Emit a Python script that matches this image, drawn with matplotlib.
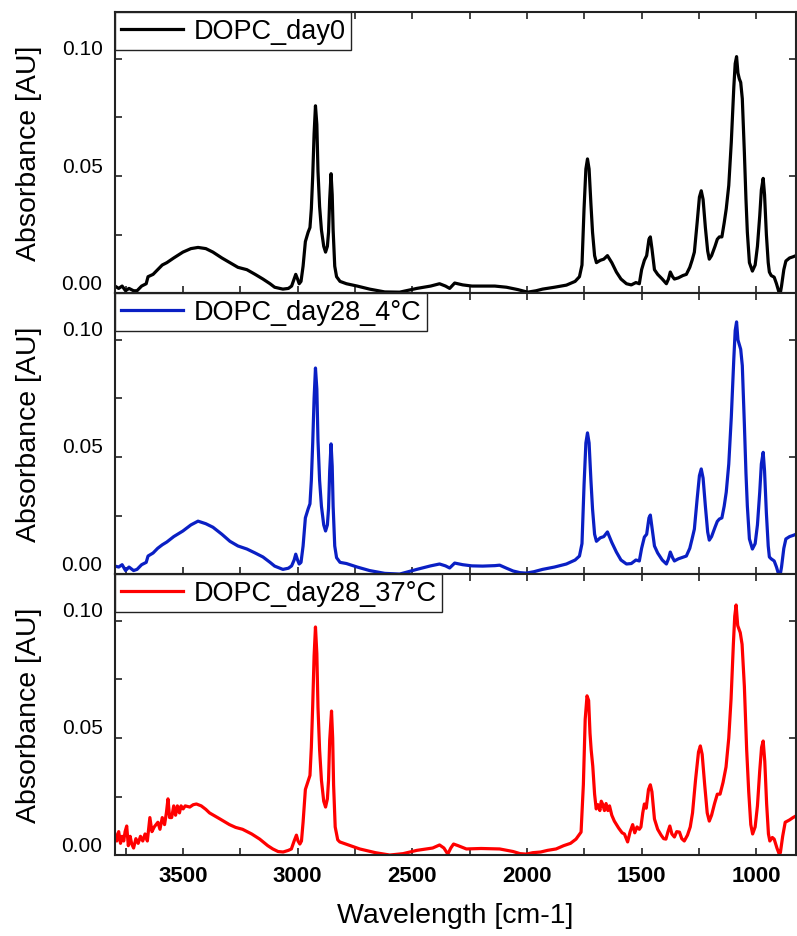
import matplotlib
matplotlib.use("Agg")
import matplotlib.pyplot as plt
import matplotlib.transforms as mtransforms
from matplotlib.ticker import MultipleLocator
import numpy as np

plt.rcParams["font.family"] = ["Liberation Sans", "DejaVu Sans"]

# DOPC, day 0
wn_day0 = [3796, 3780, 3765, 3750, 3735, 3715, 3700, 3680, 3660, 3652, 3630, 3610, 3590, 3570, 3540,
           3500, 3465, 3434, 3400, 3369, 3330, 3295, 3260, 3221, 3185, 3151, 3120, 3100, 3064, 3040,
           3026, 3015, 3008, 3000, 2993, 2985, 2976, 2966, 2954, 2946, 2940, 2934, 2928, 2922, 2916,
           2911, 2904, 2896, 2886, 2878, 2870, 2865, 2860, 2854, 2849, 2845, 2838, 2830, 2815, 2787,
           2740, 2686, 2620, 2555, 2480, 2420, 2381, 2355, 2337, 2315, 2280, 2240, 2193, 2140, 2089,
           2040, 1997, 1960, 1932, 1880, 1828, 1790, 1771, 1760, 1751, 1743, 1736, 1729, 1721, 1714,
           1705, 1697, 1680, 1665, 1649, 1630, 1610, 1590, 1566, 1545, 1525, 1510, 1500, 1488, 1478,
           1468, 1462, 1455, 1444, 1430, 1410, 1392, 1383, 1375, 1365, 1357, 1340, 1320, 1305, 1290,
           1280, 1270, 1258, 1248, 1240, 1232, 1222, 1212, 1205, 1195, 1180, 1170, 1161, 1150, 1140,
           1131, 1120, 1109, 1098, 1092, 1086, 1080, 1074, 1068, 1061, 1052, 1045, 1039, 1030, 1017,
           1005, 995, 985, 978, 970, 964, 956, 948, 943, 935, 922, 912, 903, 897, 890,
           880, 871, 855, 840, 827]
abs_day0 = [0.003, 0.002, 0.003, 0.001, 0.002, 0.001, 0.001, 0.003, 0.004, 0.007, 0.008, 0.010, 0.012, 0.013, 0.015,
            0.0175, 0.019, 0.0195, 0.019, 0.0175, 0.015, 0.013, 0.011, 0.010, 0.008, 0.006, 0.004, 0.0025, 0.0017, 0.002,
            0.003, 0.006, 0.008, 0.006, 0.004, 0.005, 0.0115, 0.022, 0.026, 0.028, 0.036, 0.050, 0.068, 0.080, 0.072,
            0.052, 0.037, 0.027, 0.020, 0.0175, 0.020, 0.026, 0.040, 0.051, 0.042, 0.027, 0.0115, 0.007, 0.005, 0.004,
            0.003, 0.0017, 0.0005, 0.0004, 0.002, 0.003, 0.004, 0.003, 0.002, 0.0043, 0.0035, 0.003, 0.003, 0.003, 0.0025,
            0.0015, 0.0004, 0.001, 0.0017, 0.0025, 0.0034, 0.005, 0.007, 0.012, 0.036, 0.053, 0.0573, 0.053, 0.038, 0.026,
            0.016, 0.013, 0.014, 0.0145, 0.016, 0.013, 0.009, 0.006, 0.004, 0.0035, 0.0045, 0.004, 0.010, 0.014, 0.016,
            0.023, 0.024, 0.019, 0.010, 0.008, 0.006, 0.004, 0.006, 0.009, 0.007, 0.006, 0.0065, 0.0075, 0.008, 0.011,
            0.014, 0.0175, 0.030, 0.041, 0.0437, 0.040, 0.028, 0.018, 0.0145, 0.016, 0.020, 0.023, 0.024, 0.024, 0.030,
            0.036, 0.046, 0.0645, 0.088, 0.098, 0.101, 0.094, 0.0915, 0.090, 0.083, 0.060, 0.040, 0.026, 0.013, 0.0094,
            0.012, 0.020, 0.033, 0.044, 0.049, 0.042, 0.025, 0.013, 0.009, 0.0075, 0.0068, 0.004, 0.001, -0.001, 0.003,
            0.010, 0.0137, 0.015, 0.0155, 0.016]

# DOPC, day 28 stored at 4 °C
wn_day28_4 = [3796, 3780, 3765, 3750, 3735, 3715, 3700, 3680, 3660, 3652, 3630, 3610, 3590, 3570, 3540,
              3500, 3465, 3434, 3400, 3369, 3330, 3295, 3260, 3221, 3185, 3151, 3120, 3100, 3064, 3040,
              3026, 3015, 3008, 3000, 2993, 2985, 2976, 2966, 2954, 2946, 2940, 2934, 2928, 2922, 2916,
              2911, 2904, 2896, 2886, 2878, 2870, 2865, 2860, 2854, 2849, 2845, 2838, 2830, 2815, 2787,
              2740, 2686, 2620, 2555, 2480, 2420, 2381, 2355, 2337, 2315, 2280, 2240, 2193, 2140, 2119,
              2089, 2060, 2030, 2003, 1970, 1932, 1880, 1828, 1790, 1771, 1760, 1751, 1743, 1736, 1729,
              1721, 1714, 1705, 1697, 1680, 1665, 1649, 1630, 1610, 1590, 1566, 1545, 1525, 1510, 1500,
              1488, 1478, 1468, 1462, 1455, 1444, 1430, 1410, 1392, 1383, 1375, 1365, 1357, 1340, 1320,
              1305, 1290, 1280, 1270, 1258, 1248, 1240, 1232, 1222, 1212, 1205, 1195, 1180, 1170, 1161,
              1150, 1140, 1131, 1120, 1109, 1098, 1092, 1086, 1080, 1074, 1068, 1061, 1052, 1045, 1039,
              1030, 1017, 1005, 995, 985, 978, 970, 964, 956, 948, 943, 935, 922, 912, 903,
              897, 890, 880, 871, 855, 840, 827]
abs_day28_4 = [0.0034, 0.003, 0.004, 0.0015, 0.003, 0.0015, 0.002, 0.004, 0.005, 0.0077, 0.009, 0.011, 0.0125, 0.0137, 0.016,
               0.0184, 0.021, 0.0226, 0.0215, 0.020, 0.017, 0.014, 0.012, 0.0107, 0.009, 0.0073, 0.005, 0.0034, 0.002, 0.0025,
               0.0035, 0.006, 0.0085, 0.006, 0.0043, 0.005, 0.012, 0.024, 0.0278, 0.030, 0.040, 0.056, 0.075, 0.088, 0.079,
               0.057, 0.040, 0.029, 0.021, 0.0184, 0.021, 0.028, 0.044, 0.0556, 0.046, 0.029, 0.012, 0.007, 0.005, 0.0045,
               0.003, 0.0015, 0.0003, 0.0, 0.002, 0.0035, 0.0043, 0.0035, 0.0026, 0.0047, 0.004, 0.0035, 0.0034, 0.0036, 0.0038,
               0.0025, 0.0013, 0.0006, 0.0004, 0.001, 0.002, 0.003, 0.0043, 0.006, 0.0077, 0.013, 0.038, 0.056, 0.0603, 0.056,
               0.040, 0.0278, 0.017, 0.014, 0.0155, 0.016, 0.018, 0.0135, 0.0094, 0.006, 0.0043, 0.0045, 0.006, 0.0056, 0.011,
               0.0158, 0.017, 0.024, 0.0252, 0.020, 0.012, 0.009, 0.006, 0.0043, 0.0065, 0.0094, 0.007, 0.0056, 0.0065, 0.0072,
               0.0077, 0.011, 0.015, 0.0192, 0.032, 0.042, 0.0449, 0.041, 0.029, 0.018, 0.0145, 0.016, 0.020, 0.0225, 0.0235,
               0.024, 0.029, 0.035, 0.047, 0.067, 0.092, 0.104, 0.1077, 0.100, 0.098, 0.096, 0.089, 0.064, 0.043, 0.029,
               0.015, 0.0107, 0.013, 0.021, 0.035, 0.047, 0.052, 0.044, 0.026, 0.012, 0.0073, 0.0065, 0.0056, 0.003, 0.0,
               -0.001, 0.003, 0.011, 0.015, 0.016, 0.0165, 0.017]

# DOPC, day 28 stored at 37 °C
wn_day28_37 = [3796, 3788, 3780, 3772, 3765, 3758, 3752, 3745, 3738, 3730, 3723, 3715, 3705, 3695, 3685,
               3675, 3665, 3655, 3644, 3635, 3625, 3609, 3600, 3590, 3580, 3572, 3565, 3558, 3549, 3540,
               3532, 3524, 3515, 3508, 3499, 3490, 3470, 3455, 3441, 3420, 3400, 3384, 3340, 3297, 3270,
               3240, 3200, 3165, 3130, 3108, 3085, 3063, 3040, 3027, 3015, 3005, 2998, 2990, 2983, 2976,
               2966, 2954, 2946, 2940, 2934, 2928, 2922, 2916, 2911, 2904, 2896, 2886, 2878, 2870, 2865,
               2860, 2852, 2847, 2843, 2836, 2825, 2816, 2770, 2729, 2660, 2598, 2540, 2480, 2411, 2381,
               2362, 2345, 2332, 2320, 2300, 2264, 2200, 2119, 2060, 2030, 2003, 1975, 1940, 1910, 1873,
               1840, 1810, 1786, 1764, 1754, 1746, 1738, 1731, 1725, 1720, 1713, 1705, 1698, 1690, 1682,
               1676, 1670, 1662, 1655, 1647, 1640, 1630, 1619, 1600, 1585, 1575, 1561, 1550, 1539, 1530,
               1520, 1510, 1503, 1495, 1488, 1480, 1470, 1462, 1455, 1444, 1430, 1415, 1404, 1394, 1385,
               1377, 1368, 1357, 1347, 1335, 1325, 1314, 1300, 1288, 1278, 1265, 1252, 1244, 1236, 1225,
               1214, 1205, 1195, 1182, 1170, 1158, 1145, 1132, 1120, 1110, 1100, 1094, 1088, 1081, 1070,
               1062, 1052, 1042, 1033, 1024, 1016, 1005, 995, 985, 977, 970, 963, 955, 947, 941,
               930, 922, 910, 900, 895, 885, 874, 855, 840, 827]
abs_day28_37 = [0.009, 0.006, 0.010, 0.005, 0.008, 0.006, 0.010, 0.0124, 0.004, 0.008, 0.0047, 0.003, 0.007, 0.005, 0.008,
                0.006, 0.009, 0.006, 0.016, 0.010, 0.012, 0.014, 0.011, 0.016, 0.013, 0.018, 0.024, 0.016, 0.016, 0.021,
                0.017, 0.021, 0.018, 0.021, 0.0197, 0.021, 0.0205, 0.0215, 0.0218, 0.021, 0.0195, 0.018, 0.0155, 0.013, 0.0118,
                0.011, 0.009, 0.0068, 0.004, 0.0026, 0.0015, 0.0013, 0.002, 0.0026, 0.006, 0.0085, 0.006, 0.0047, 0.006, 0.014,
                0.028, 0.0316, 0.034, 0.046, 0.064, 0.085, 0.0974, 0.086, 0.063, 0.045, 0.032, 0.023, 0.0205, 0.024, 0.032,
                0.049, 0.0615, 0.050, 0.030, 0.012, 0.0065, 0.0056, 0.004, 0.0026, 0.001, 0.0, 0.0006, 0.002, 0.003, 0.0043,
                0.003, 0.0004, 0.003, 0.0047, 0.004, 0.0026, 0.0028, 0.0026, 0.0015, 0.0006, 0.0004, 0.001, 0.0013, 0.002, 0.0026,
                0.004, 0.005, 0.0068, 0.0098, 0.030, 0.058, 0.068, 0.066, 0.052, 0.045, 0.038, 0.026, 0.0197, 0.0215, 0.019,
                0.023, 0.0218, 0.019, 0.022, 0.019, 0.021, 0.017, 0.0145, 0.0115, 0.0095, 0.009, 0.0056, 0.010, 0.013, 0.0095,
                0.012, 0.011, 0.012, 0.018, 0.0218, 0.020, 0.028, 0.030, 0.027, 0.0154, 0.011, 0.0085, 0.007, 0.0068, 0.010,
                0.0124, 0.009, 0.0077, 0.010, 0.0098, 0.007, 0.006, 0.0085, 0.012, 0.018, 0.032, 0.044, 0.0466, 0.043, 0.030,
                0.018, 0.0145, 0.017, 0.022, 0.026, 0.026, 0.031, 0.0376, 0.050, 0.0667, 0.090, 0.102, 0.1068, 0.098, 0.095,
                0.090, 0.072, 0.045, 0.027, 0.013, 0.009, 0.012, 0.021, 0.036, 0.046, 0.0487, 0.040, 0.022, 0.009, 0.006,
                0.0075, 0.0068, 0.003, 0.0004, 0.001, 0.008, 0.014, 0.015, 0.016, 0.0167]

series = [
    (wn_day0, abs_day0, "black", "DOPC_day0"),
    (wn_day28_4, abs_day28_4, "#0a1fc4", "DOPC_day28_4°C"),
    (wn_day28_37, abs_day28_37, "#ff0000", "DOPC_day28_37°C"),
]

fig, axes = plt.subplots(3, 1, figsize=(7.97, 9.37), dpi=100, sharex=True)
fig.subplots_adjust(left=0.1443, right=0.999, top=0.986, bottom=0.0864, hspace=0)

# tick labels on the y axis sit a bit above their ticks
label_shift = mtransforms.ScaledTranslation(0, 0.12, fig.dpi_scale_trans)

for ax, (wn, ab, color, name) in zip(axes, series):
    ax.plot(np.array(wn), np.array(ab), color=color, lw=2.3, label=name,
            solid_joinstyle="round")
    ax.set_xlim(3796, 826)
    ax.set_ylim(0, 0.12)
    ax.xaxis.set_major_locator(MultipleLocator(500))
    ax.xaxis.set_minor_locator(MultipleLocator(250))
    ax.yaxis.set_major_locator(MultipleLocator(0.05))
    ax.yaxis.set_minor_locator(MultipleLocator(0.025))
    ax.yaxis.set_major_formatter(lambda v, p: f"{v:.2f}")
    ax.tick_params(which="both", direction="in", top=True, length=5, width=1.2, color="#222222")
    ax.tick_params(axis="y", which="major", right=True, labelsize=15, pad=9)
    ax.tick_params(axis="x", labelsize=16, pad=7)
    for sp in ax.spines.values():
        sp.set_linewidth(1.5)
        sp.set_color("#222222")
    ax.set_ylabel("Absorbance [AU]", fontsize=20.5)
    ax.yaxis.set_label_coords(-0.107, 0.5)
    for tick in ax.yaxis.get_major_ticks():
        tick.label1.set_transform(tick.label1.get_transform() + label_shift)
    leg = ax.legend(loc="upper left", fontsize=19.5, frameon=True, fancybox=False,
                    borderaxespad=0, borderpad=0.22, handlelength=2.3, handletextpad=0.37,
                    framealpha=1)
    leg.get_frame().set_edgecolor("#222222")
    leg.get_frame().set_linewidth(1.0)

for lab in axes[-1].get_xticklabels():
    lab.set_fontweight("bold")
axes[-1].set_xlabel("Wavelength [cm-1]", fontsize=20.5, labelpad=12)

fig.savefig("out.png", dpi=100)
